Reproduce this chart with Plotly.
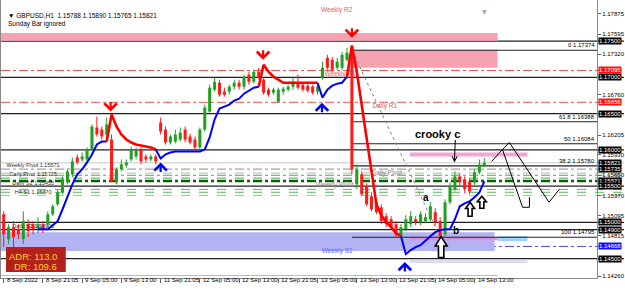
import plotly.graph_objects as go

# ---------------- data ----------------
tick_idx = [0, 8, 16, 24, 32, 40, 48, 56, 64, 72, 80, 88, 96]
tick_labels = ["8 Sep 2022", "8 Sep 21:05", "9 Sep 05:00", "9 Sep 13:00", "11 Sep 21:05",
               "12 Sep 05:00", "12 Sep 13:00", "12 Sep 21:05", "13 Sep 05:00", "13 Sep 13:00",
               "13 Sep 21:05", "14 Sep 05:00", "14 Sep 13:00"]

opens = [1.15112, 1.14768, 1.14934, 1.14906, 1.14768, 1.14975, 1.14975, 1.14906, 1.14975, 1.14975,
         1.15112, 1.15250, 1.15414, 1.15552, 1.15662, 1.15895, 1.15868, 1.15868, 1.16005, 1.16308,
         1.16280, 1.16212, 1.16143, 1.15552, 1.15731, 1.15785, 1.15868, 1.15909, 1.16005, 1.15909,
         1.15868, 1.15909, 1.16377, 1.16280, 1.16102, 1.16115, 1.16143, 1.16280, 1.16184, 1.16143,
         1.16033, 1.16280, 1.16528, 1.16830, 1.16926, 1.16803, 1.16803, 1.16871, 1.16926, 1.16871,
         1.17036, 1.16940, 1.17077, 1.16968, 1.16830, 1.16789, 1.16665, 1.16803, 1.16830, 1.16871,
         1.16926, 1.16899, 1.16885, 1.16871, 1.16803, 1.16995, 1.17270, 1.17242, 1.17132, 1.17132,
         1.17242, 1.17339, 1.15524, 1.15662, 1.15497, 1.15359, 1.15277, 1.15208, 1.15085, 1.15043,
         1.14975, 1.14810, 1.14906, 1.14975, 1.15043, 1.15002, 1.15016, 1.15043, 1.15140, 1.15016,
         1.14837, 1.15277, 1.15456, 1.15634, 1.15593, 1.15566, 1.15552, 1.15689, 1.15788]
highs = [1.15153, 1.14975, 1.15016, 1.14975, 1.15153, 1.15043, 1.15016, 1.15071, 1.15016, 1.15153,
         1.15250, 1.15456, 1.15634, 1.15731, 1.15895, 1.15937, 1.15964, 1.16033, 1.16349, 1.16459,
         1.16322, 1.16445, 1.16212, 1.15758, 1.15868, 1.15868, 1.16047, 1.16033, 1.16033, 1.15937,
         1.15937, 1.15937, 1.16445, 1.16322, 1.16212, 1.16280, 1.16308, 1.16322, 1.16225, 1.16184,
         1.16308, 1.16624, 1.16899, 1.16995, 1.16968, 1.16858, 1.16899, 1.16968, 1.16968, 1.17036,
         1.17077, 1.17105, 1.17132, 1.17009, 1.16858, 1.16858, 1.16858, 1.16871, 1.16899, 1.16995,
         1.17036, 1.16926, 1.16926, 1.16899, 1.16899, 1.17215, 1.17311, 1.17284, 1.17270, 1.17352,
         1.17407, 1.17420, 1.15799, 1.15703, 1.15538, 1.15414, 1.15318, 1.15250, 1.15126, 1.15085,
         1.15016, 1.14975, 1.15098, 1.15153, 1.15085, 1.15153, 1.15126, 1.15277, 1.15194, 1.15071,
         1.15318, 1.15552, 1.15703, 1.15676, 1.15634, 1.15607, 1.15731, 1.15868, 1.15890]
lows = [1.14659, 1.14700, 1.14631, 1.14768, 1.14700, 1.14796, 1.14837, 1.14851, 1.14851, 1.14934,
        1.15085, 1.15222, 1.15387, 1.15524, 1.15621, 1.15799, 1.15841, 1.15841, 1.15992, 1.16184,
        1.16143, 1.16143, 1.15552, 1.15524, 1.15703, 1.15758, 1.15841, 1.15868, 1.15799, 1.15827,
        1.15841, 1.15799, 1.16212, 1.16074, 1.16074, 1.16088, 1.16115, 1.16102, 1.16074, 1.16005,
        1.16005, 1.16253, 1.16514, 1.16803, 1.16734, 1.16734, 1.16761, 1.16830, 1.16830, 1.16830,
        1.16899, 1.16913, 1.16968, 1.16761, 1.16734, 1.16761, 1.16652, 1.16761, 1.16803, 1.16830,
        1.16830, 1.16803, 1.16789, 1.16761, 1.16761, 1.16968, 1.17105, 1.17077, 1.17105, 1.17105,
        1.17215, 1.15662, 1.15456, 1.15359, 1.15222, 1.15153, 1.15112, 1.14975, 1.14934, 1.14906,
        1.14796, 1.14782, 1.14879, 1.14934, 1.14961, 1.14961, 1.14988, 1.15016, 1.14961, 1.14796,
        1.14810, 1.15250, 1.15428, 1.15511, 1.15401, 1.15387, 1.15511, 1.15662, 1.15765]
closes = [1.14837, 1.14934, 1.14796, 1.14837, 1.15016, 1.14879, 1.14906, 1.14975, 1.14906, 1.15112,
          1.15222, 1.15414, 1.15593, 1.15703, 1.15841, 1.15827, 1.15909, 1.16005, 1.16322, 1.16212,
          1.16184, 1.16349, 1.15566, 1.15731, 1.15799, 1.15827, 1.16005, 1.15992, 1.15841, 1.15868,
          1.15909, 1.15841, 1.16253, 1.16102, 1.16184, 1.16212, 1.16239, 1.16143, 1.16102, 1.16033,
          1.16280, 1.16583, 1.16858, 1.16940, 1.16761, 1.16761, 1.16871, 1.16926, 1.16871, 1.17009,
          1.16940, 1.17077, 1.16995, 1.16789, 1.16761, 1.16830, 1.16830, 1.16844, 1.16871, 1.16940,
          1.16858, 1.16830, 1.16816, 1.16789, 1.16871, 1.17132, 1.17132, 1.17105, 1.17215, 1.17311,
          1.17339, 1.15731, 1.15731, 1.15387, 1.15250, 1.15181, 1.15140, 1.15016, 1.14975, 1.14934,
          1.14837, 1.14934, 1.15043, 1.15085, 1.15002, 1.15112, 1.15071, 1.15222, 1.15002, 1.14810,
          1.15277, 1.15497, 1.15634, 1.15552, 1.15456, 1.15428, 1.15689, 1.15799, 1.15821]

trend = [None] * 7 + [
    1.14906, 1.14906, 1.14906, 1.14961, 1.15016, 1.15181, 1.15359, 1.15524, 1.15662, 1.15731,
    1.15827, 1.15937, 1.16074, 1.16115, 1.16115,
    1.16487, 1.16322, 1.16212, 1.16143, 1.16102, 1.16074, 1.16060, 1.16047, 1.16033, 1.16005,
    1.15882, 1.15937, 1.15964, 1.15978, 1.15978, 1.15978, 1.15978, 1.15978, 1.15978, 1.16005,
    1.16171, 1.16418, 1.16569, 1.16596, 1.16624, 1.16679, 1.16706, 1.16775, 1.16816, 1.16858,
    1.16871,
    1.17174, 1.17077, 1.17009, 1.16968, 1.16926, 1.16926, 1.16926, 1.16926, 1.16926, 1.16926,
    1.16926, 1.16926,
    1.16720, 1.16830, 1.16885, 1.16913, 1.16926, 1.17009,
    1.17441, 1.17077, 1.16624, 1.16143, 1.15662, 1.15249, 1.15098, 1.15002, 1.14934, 1.14851,
    1.14810,
    1.14563, 1.14618, 1.14659, 1.14686, 1.14755, 1.14810, 1.14865, 1.14892, 1.14906, 1.14906,
    1.15043, 1.15222, 1.15263, 1.15290, 1.15345, 1.15414, 1.15566]
trend_segments = [(7, 21, "blue"), (21, 31, "red"), (31, 52, "blue"), (52, 64, "red"),
                  (64, 70, "blue"), (70, 81, "red"), (81, 98, "blue")]

down_arrows = [(21.8, 1.16528), (52.9, 1.17242), (71.0, 1.17545)]
up_arrows = [(32.0, 1.15827), (64.9, 1.16651), (81.8, 1.14452)]
hollow_arrows = [(89.2, 1.14659, 12, 21), (95.1, 1.15181, 9, 14), (97.5, 1.15277, 9, 12)]

full_black = [1.17500, 1.17000, 1.16500, 1.16000, 1.15500, 1.15000, 1.14900, 1.14500]
fib_high, fib_low, fib_start, fib_end = 1.17374, 1.14795, 71, 89
fib_levels = [("0", 1.17374), ("61.8", 1.16388), ("50", 1.16084), ("38.2", 1.15780), ("100", 1.14795)]
red_dd = [1.17095, 1.16656]
blue_dd = [1.14668]
green_lines = [(1.15735, "#8c8c8c", 1, "dashdot"), (1.15680, "#b8b8b8", 1, "dash"),
               (1.15650, "#44b044", 1, "dashdot"), (1.15610, "#44b044", 1, "dash"),
               (1.15571, "#0b5e0b", 2.5, "dashdot"), (1.15455, "#55b855", 1, "dash"),
               (1.15415, "#55b855", 1, "dash"), (1.15370, "#8fd08f", 1, "dash")]
bid = 1.15821

axis_plain = [1.17875, 1.17595, 1.17320, 1.16760, 1.16205, 1.15930, 1.15650, 1.15370, 1.15095, 1.14815, 1.14260]
axis_black = [1.17500, 1.17000, 1.16500, 1.16000, 1.15821, 1.15735, 1.15571, 1.15500, 1.15000, 1.14900, 1.14500]
axis_red = [1.17095, 1.16656]
axis_blue = [1.14668]

level_labels = [("Weekly R2", 67.9, 1.17930, "#e85a5a"), ("Weekly R1", 68.6, 1.17036, "#e85a5a"),
                ("Daily R1", 77.7, 1.16596, "#e85a5a"), ("Daily Pivot", 78.1, 1.15676, "#8a8a8a"),
                ("Weekly Pivot", 67.5, 1.15511, "#8a8a8a"), ("Weekly S1", 68.0, 1.14604, "#5a5aff")]

left_labels = [("Weekly Pivot 1.15571", 1.15786), ("Daily Pivot 1.15735", 1.15662),
               ("Daily S1 1.15455", 1.15538), ("H4 S1 1.15370", 1.15414), ("Daily S2 1.14900", 1.14947)]

zig_paths = [[(99.5, 1.15841), (101.7, 1.16005), (103.1, 1.16102)],
             [(101.7, 1.16005), (105.8, 1.15208), (107.2, 1.15208), (107.2, 1.15346)],
             [(103.1, 1.16102), (111.2, 1.15277), (113.3, 1.15456)]]

XR = [-0.549, 120.996]
YR = [1.14232, 1.18067]
FONT = "Liberation Sans"
PX_X = 1 / 4.92          # bars per pixel
PX_Y = (YR[1] - YR[0]) / 279  # price per pixel

fig = go.Figure()

# ---- background shapes ----
shapes = []
def rect(x0, x1, y0, y1, color, xref="x"):
    shapes.append(dict(type="rect", xref=xref, yref="y", x0=x0, x1=x1, y0=y0, y1=y1,
                       fillcolor=color, line=dict(width=0), layer="below"))

rect(XR[0], 100.7, 1.17504, 1.17613, "#f5a3b3")
rect(71, 100.7, 1.17132, 1.17380, "#f5a3b3")
rect(XR[0], 100.1, 1.14604, 1.14865, "#b3b3f3")
rect(82.8, 106.8, 1.15909, 1.15964, "#f3a6d3")
rect(82.8, 100.7, 1.14755, 1.14796, "#e08ee0")
rect(100.7, 106.8, 1.14741, 1.14810, "#a3d3f3")
rect(82.8, 106.8, 1.14439, 1.14480, "#dcdcf7")
rect(XR[0], 100.7, 1.14260, 1.14274, "#b5b5f0")

def hline(y, color, width=1, dash="solid", x0=None):
    if x0 is None:
        shapes.append(dict(type="line", xref="paper", yref="y", x0=0, x1=1, y0=y, y1=y,
                           line=dict(color=color, width=width, dash=dash), layer="below"))
    else:
        shapes.append(dict(type="line", xref="x", yref="y", x0=x0, x1=XR[1], y0=y, y1=y,
                           line=dict(color=color, width=width, dash=dash), layer="below"))

hline(bid, "#c8c8c8")
for y, c, w, d in green_lines:
    hline(y, c, w, d)
for y in red_dd:
    hline(y, "#ff4a4a", 1, "dashdot")
for y in blue_dd:
    hline(y, "#4a4aff", 1, "dashdot")
for y in full_black:
    hline(y, "#202020", 1.2)
for name, y in fib_levels:
    hline(y, "#202020", 1.2, x0=fib_start)
shapes.append(dict(type="line", xref="x", yref="y", x0=fib_start, y0=fib_high, x1=fib_end, y1=fib_low,
                   line=dict(color="#808080", width=1, dash="dot"), layer="below"))

# ADR box
shapes.append(dict(type="rect", xref="x", yref="y", x0=0.47, x1=12.66, y0=1.14315, y1=1.14659,
                   fillcolor="#b3201e", line=dict(width=0), layer="above"))

# hand-drawn zigzag
for path in zig_paths:
    for (xa, ya), (xb, yb) in zip(path[:-1], path[1:]):
        shapes.append(dict(type="line", xref="x", yref="y", x0=xa, y0=ya, x1=xb, y1=yb,
                           line=dict(color="black", width=1), layer="above"))

# hollow hand-drawn up arrows (outline paths)
for cx, cy, w, h in hollow_arrows:
    hh = 0.45 * h
    sw = 0.45 * w
    pts = [(0, h / 2), (w / 2, h / 2 - hh), (sw / 2, h / 2 - hh), (sw / 2, -h / 2),
           (-sw / 2, -h / 2), (-sw / 2, h / 2 - hh), (-w / 2, h / 2 - hh)]
    d = "M " + " L ".join(f"{cx + px * PX_X:.4f},{cy + py * PX_Y:.6f}" for px, py in pts) + " Z"
    shapes.append(dict(type="path", xref="x", yref="y", path=d, fillcolor="white",
                       line=dict(color="black", width=1.6), layer="above"))

# ---- level label texts (under candles) ----
for t, x, y, c in level_labels:
    fig.add_trace(go.Scatter(x=[x], y=[y], mode="text", text=[t],
                             textfont=dict(family=FONT, size=6.5, color=c), hoverinfo="skip"))
for t, y in left_labels:
    fig.add_trace(go.Scatter(x=[6.0], y=[y], mode="text", text=[t],
                             textfont=dict(family=FONT, size=5.5, color="#303030"), hoverinfo="skip"))

# ---- candles ----
n = len(opens)
idx = list(range(n))
up_col, dn_col = "#22a022", "#ff1a1a"
for col, cond in ((up_col, lambda i: closes[i] >= opens[i]), (dn_col, lambda i: closes[i] < opens[i])):
    wx, wy = [], []
    bx, bb, bh = [], [], []
    for i in idx:
        if cond(i):
            wx += [i, i, None]
            wy += [lows[i], highs[i], None]
            bx.append(i)
            bb.append(min(opens[i], closes[i]))
            bh.append(max(abs(closes[i] - opens[i]), 0.00004))
    fig.add_trace(go.Scatter(x=wx, y=wy, mode="lines", line=dict(color=col, width=1), hoverinfo="skip"))
    fig.add_trace(go.Bar(x=bx, y=bh, base=bb, width=0.62, marker=dict(color=col, line=dict(width=0))))

# ---- trend line ----
for s, e, c in trend_segments:
    fig.add_trace(go.Scatter(x=idx[s:e + 1], y=trend[s:e + 1], mode="lines",
                             line=dict(color="#ff0000" if c == "red" else "#0000ff",
                                       width=2.6 if c == "red" else 2), hoverinfo="skip"))

ann = []
for x, y in down_arrows:
    ann.append(dict(x=x, y=y, xref="x", yref="y", ax=0, ay=-11, showarrow=True, arrowhead=4,
                    arrowsize=1.1, arrowwidth=2.2, arrowcolor="#ff0000", text=""))
for x, y in up_arrows:
    ann.append(dict(x=x, y=y, xref="x", yref="y", ax=0, ay=11, showarrow=True, arrowhead=4,
                    arrowsize=1.1, arrowwidth=2.2, arrowcolor="#0000ff", text=""))

# fib labels
for name, y in fib_levels:
    ann.append(dict(x=XR[1], y=y, xref="x", yref="y", xanchor="right", yanchor="bottom", yshift=0,
                    text=f"{name} {y:.5f}", showarrow=False, font=dict(family=FONT, size=6, color="black")))

# hand annotations
ann.append(dict(x=88.5, y=1.16225, xref="x", yref="y", text="<b>crooky c</b>", showarrow=False,
                font=dict(family=FONT, size=11, color="black")))
ann.append(dict(x=86.2, y=1.15346, xref="x", yref="y", text="<b>a</b>", showarrow=False,
                font=dict(family=FONT, size=10, color="black")))
ann.append(dict(x=92.3, y=1.14892, xref="x", yref="y", text="<b>b</b>", showarrow=False,
                font=dict(family=FONT, size=10, color="black")))
ann.append(dict(x=91.9, y=1.15827, xref="x", yref="y", ax=1, ay=-24, showarrow=True, arrowhead=5,
                arrowsize=1, arrowwidth=1, arrowcolor="black", text=""))

# ADR text
ann.append(dict(x=11.3, y=1.14535, xref="x", yref="y", xanchor="right", text="ADR: 113.0", showarrow=False,
                font=dict(family=FONT, size=9.5, color="#ffd21a")))
ann.append(dict(x=11.3, y=1.14398, xref="x", yref="y", xanchor="right", text="DR: 109.6", showarrow=False,
                font=dict(family=FONT, size=9.5, color="#ffd21a")))

# header
ann.append(dict(x=5 / 625, y=1 - 10 / 294, xref="paper", yref="paper", xanchor="left", showarrow=False,
                text="▼ GBPUSD,H1  1.15788 1.15890 1.15765 1.15821",
                font=dict(family=FONT, size=6.5, color="black")))
ann.append(dict(x=5 / 625, y=1 - 18.5 / 294, xref="paper", yref="paper", xanchor="left", showarrow=False,
                text="Sunday Bar ignored", font=dict(family=FONT, size=6.5, color="black")))
ann.append(dict(x=490 / 625, y=1 - 6 / 294, xref="paper", yref="paper", showarrow=False,
                text="▼", font=dict(family="DejaVu Sans", size=6, color="#a0a0a0")))

# x tick labels
for i, t in zip(tick_idx, tick_labels):
    ann.append(dict(x=i, y=1 - 286 / 294, xref="x", yref="paper", xanchor="left", xshift=1,
                    showarrow=False, text=t, font=dict(family=FONT, size=6, color="black")))

# right axis boxes
for vals, bg in ((axis_black, "#000000"), (axis_red, "#ff1010"), (axis_blue, "#1010ff")):
    for v in vals:
        ann.append(dict(x=598 / 625, y=v, xref="paper", yref="y", xanchor="left", xshift=1,
                        showarrow=False, text=f"{v:.5f}", bgcolor=bg, borderpad=0,
                        font=dict(family=FONT, size=6, color="white")))

fig.update_layout(
    width=625, height=294, margin=dict(l=0, r=0, t=0, b=0),
    paper_bgcolor="white", plot_bgcolor="white", showlegend=False, barmode="overlay",
    shapes=shapes, annotations=ann,
    xaxis=dict(domain=[0, 598 / 625], range=XR, showgrid=False, zeroline=False,
               showline=True, linecolor="#8a8a8a", linewidth=1,
               tickvals=tick_idx, ticktext=[" "] * len(tick_idx), ticks="outside", ticklen=4,
               tickcolor="#606060", tickfont=dict(size=1)),
    yaxis=dict(domain=[15 / 294, 1], range=YR, side="right", showgrid=False, zeroline=False,
               showline=True, linecolor="#8a8a8a", linewidth=1, mirror=True,
               tickvals=axis_plain + axis_black + axis_red + axis_blue,
               ticktext=[f"{v:.5f}" for v in axis_plain] + [" "] * (len(axis_black) + len(axis_red) + len(axis_blue)),
               ticks="outside", ticklen=3, tickcolor="#606060",
               tickfont=dict(family=FONT, size=6, color="black")),
)

fig.write_html("out.html")
